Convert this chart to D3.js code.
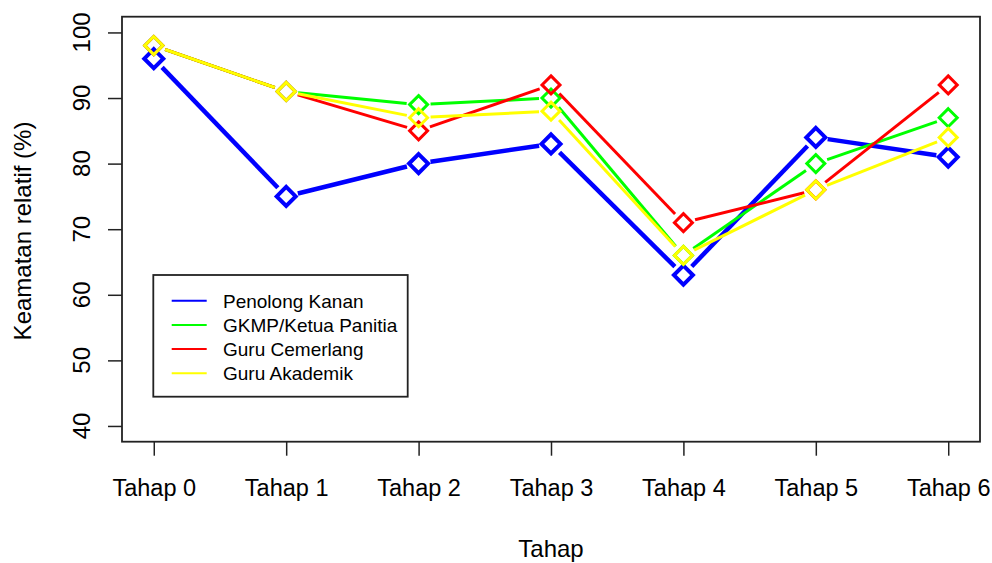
<!DOCTYPE html>
<html><head><meta charset="utf-8">
<script src="https://cdn.jsdelivr.net/npm/d3@7"></script>
<style>body{margin:0;background:#fff}svg{display:block}text{font-family:"Liberation Sans",Arial,sans-serif;fill:#000}</style>
</head><body><svg id="c" width="992" height="563"></svg>
<script>
const categories = ["Tahap 0","Tahap 1","Tahap 2","Tahap 3","Tahap 4","Tahap 5","Tahap 6"];
const seriesNames = ["Penolong Kanan","GKMP/Ketua Panitia","Guru Cemerlang","Guru Akademik"];
const seriesColors = ["#0000FF","#00FF00","#FF0000","#FFFF00"];
const penolongKanan = [96,75,80,83,63,84,81];
const gkmpKetuaPanitia = [98,91,89,90,66,80,87];
const guruCemerlang = [98,91,85,92,71,76,92];
const guruAkademik = [98,91,87,88,66,76,84];
const yTicks = [40,50,60,70,80,90,100];
const seriesValues = [penolongKanan,gkmpKetuaPanitia,guruCemerlang,guruAkademik];

const svg = d3.select("#c");
const L=122, R=980, T=16.7, B=441.7;
const x = d3.scaleLinear().domain([-0.24,6.24]).range([L,R]);
const y = d3.scaleLinear().domain([37.6,102.4]).range([B,T]);

// axes
const yAxis = d3.axisLeft(y).tickValues(yTicks).tickSize(14).tickPadding(0).tickFormat(d=>d);
const gy = svg.append("g").attr("transform",`translate(${L},0)`).call(yAxis);
gy.select(".domain").remove();
gy.selectAll(".tick line").attr("stroke","#222").attr("stroke-width",1.5);
gy.selectAll(".tick text").remove();
yTicks.forEach(t=>{
  svg.append("text").attr("transform",`translate(89.5,${y(t)}) rotate(-90)`)
    .attr("text-anchor","middle").attr("font-size",24).text(t);
});
const xAxis = d3.axisBottom(x).tickValues(d3.range(categories.length)).tickSize(14).tickFormat(i=>categories[i]);
const gx = svg.append("g").attr("transform",`translate(0,${B})`).call(xAxis);
gx.select(".domain").remove();
gx.selectAll(".tick line").attr("stroke","#222").attr("stroke-width",1.5);
gx.selectAll(".tick text").attr("font-size",23.5).attr("y",54).attr("dy",0).attr("fill","#000")
  .attr("font-family",'"Liberation Sans",Arial,sans-serif');

svg.append("rect").attr("x",L).attr("y",T).attr("width",R-L).attr("height",B-T)
  .attr("fill","none").attr("stroke","#222").attr("stroke-width",1.8);

// titles
svg.append("text").attr("x",(L+R)/2).attr("y",557).attr("text-anchor","middle").attr("font-size",24).text("Tahap");
svg.append("text").attr("transform",`translate(31,231) rotate(-90)`).attr("text-anchor","middle").attr("font-size",24).text("Keamatan relatif (%)");

// series
const gap = 12;
seriesValues.forEach((vals,si)=>{
  const col = seriesColors[si];
  const lw = si===0 ? 4.5 : 3;
  const g = svg.append("g");
  for(let i=0;i<vals.length-1;i++){
    const x1=x(i), y1=y(vals[i]), x2=x(i+1), y2=y(vals[i+1]);
    const dx=x2-x1, dy=y2-y1, len=Math.hypot(dx,dy);
    if(len<=2*gap) continue;
    const ux=dx/len, uy=dy/len;
    g.append("line").attr("x1",x1+ux*gap).attr("y1",y1+uy*gap)
      .attr("x2",x2-ux*gap).attr("y2",y2-uy*gap)
      .attr("stroke",col).attr("stroke-width",lw);
  }
  const r = si===0 ? 9.5 : 9;
  vals.forEach((v,i)=>{
    const cx=x(i), cy=y(v);
    g.append("path").attr("d",`M${cx},${cy-r}L${cx+r},${cy}L${cx},${cy+r}L${cx-r},${cy}Z`)
      .attr("fill","none").attr("stroke",col).attr("stroke-width",si===0?4:3);
  });
});

// legend
const lg = svg.append("g");
lg.append("rect").attr("x",153.3).attr("y",275).attr("width",254.4).attr("height",121.7)
  .attr("fill","#fff").attr("stroke","#222").attr("stroke-width",1.8);
seriesNames.forEach((n,i)=>{
  const ly = 300.7 + i*24.2;
  lg.append("line").attr("x1",171.7).attr("x2",206.7).attr("y1",ly).attr("y2",ly)
    .attr("stroke",seriesColors[i]).attr("stroke-width",2);
  lg.append("text").attr("x",223).attr("y",ly+7).attr("font-size",19).text(n);
});
</script></body></html>
